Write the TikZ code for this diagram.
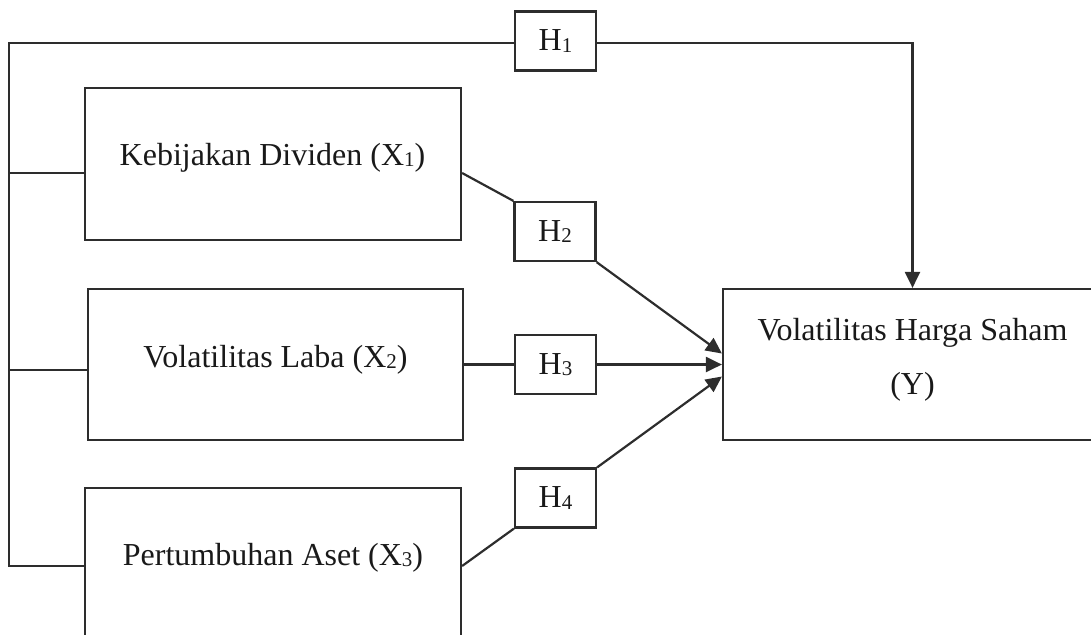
\documentclass[tikz,border=0pt]{standalone}
\usepackage{fontspec}
\setmainfont{Liberation Serif}
\usetikzlibrary{arrows.meta,calc}
\newcommand{\subx}[1]{\raisebox{-0.8pt}{\fontsize{10.5pt}{12pt}\selectfont #1}}
\definecolor{linec}{RGB}{45,45,45}
\definecolor{textc}{RGB}{25,25,25}
\begin{document}
\begin{tikzpicture}[x=0.5pt,y=-0.5pt,
  conn/.style={draw=linec,line width=1.1pt},
  arr/.style={conn,-{Triangle[length=8pt,width=7.5pt]}},
  varbox/.style={draw=linec,line width=1.1pt,inner sep=0pt},
  hbox/.style={draw=linec,line width=1.1pt,inner sep=0pt,minimum width=40.5pt,minimum height=29.5pt,
    text=textc,font=\fontsize{16pt}{19pt}\selectfont},
  lbl/.style={anchor=base,inner sep=0pt,text=textc,font=\fontsize{16pt}{19pt}\selectfont}]
\useasboundingbox (0,0) rectangle (1091,634);
\clip (0,0) rectangle (1091,634);
% variable boxes
\node[varbox,minimum width=188pt,minimum height=76pt] (x1) at (273,164) {};
\node[varbox,minimum width=187.5pt,minimum height=75.5pt] (x2) at (275.5,364.5) {};
\node[varbox,minimum width=188pt,minimum height=75pt] (x3) at (273,563) {};
\node[varbox,minimum width=189.5pt,minimum height=75.5pt] (y) at (912.5,364.5) {};
% texts
\node[lbl] (x1t) at (272.5,165) {Kebijakan Dividen (X\subx{1})};
\node[lbl] (x2t) at (275.5,367) {Volatilitas Laba (X\subx{2})};
\node[lbl] (x3t) at (273,565) {Pertumbuhan Aset (X\subx{3})};
\node[lbl] (yt1) at (912.5,340) {Volatilitas Harga Saham};
\node[lbl] (yt2) at (912.5,394) {(Y)};
% hypothesis boxes
\node[hbox] (h1) at (555.5,41) {H\subx{1}};
\node[hbox] (h2) at (555,231.5) {H\subx{2}};
\node[hbox] (h3) at (555.5,364.5) {H\subx{3}};
\node[hbox] (h4) at (555.5,498) {H\subx{4}};
% junctions
\coordinate (TL) at (9,43);
\coordinate (L1) at (9,173);
\coordinate (L2) at (9,370);
\coordinate (L3) at (9,566);
% connectors
\draw[conn] (x3.west |- L3) -- (L3) -- (TL) -- (h1.west |- TL);
\draw[arr] (h1.east |- TL) -- (y.north |- TL) -- (y.north);
\draw[conn] (L1) -- (x1.west |- L1);
\draw[conn] (L2) -- (x2.west |- L2);
\draw[conn] (x1.east |- L1) -- (h2.north west);
\draw[arr] (h2.south east) -- ([yshift=5.5pt]y.west);
\draw[conn] (x2.east |- h3.west) -- (h3.west);
\draw[arr] (h3.east) -- (y.west);
\draw[conn] (x3.east |- L3) -- (h4.south west);
\draw[arr] (h4.north east) -- ([yshift=-6pt]y.west);
\end{tikzpicture}
\end{document}
